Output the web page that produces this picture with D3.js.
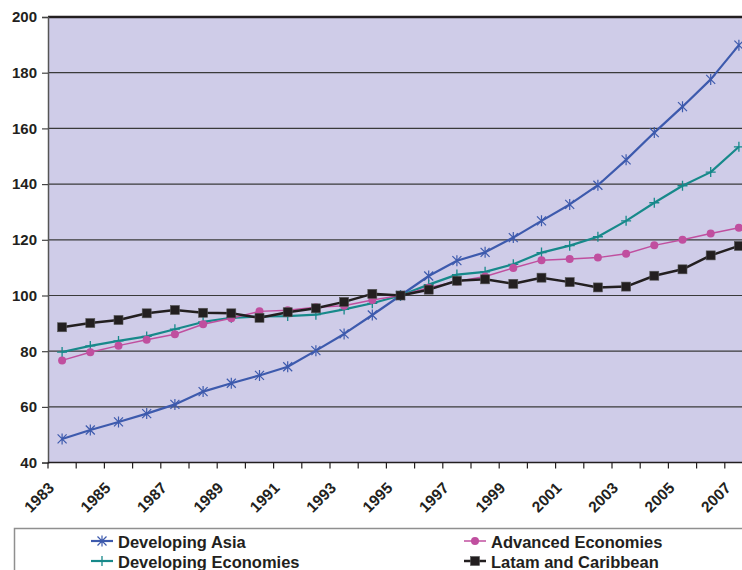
<!DOCTYPE html>
<html>
<head>
<meta charset="utf-8">
<script src="https://cdn.jsdelivr.net/npm/d3@7/dist/d3.min.js"></script>
<style>
  body { margin: 0; background: #fff; }
  svg { display: block; }
  text { font-family: "Liberation Sans", Arial, sans-serif; font-weight: bold; fill: #231f20; }
</style>
</head>
<body>
<svg id="chart" width="742" height="570"></svg>
<script>
// Index values, 1995 = 100
const years = [1983, 1984, 1985, 1986, 1987, 1988, 1989, 1990, 1991, 1992, 1993, 1994, 1995,
               1996, 1997, 1998, 1999, 2000, 2001, 2002, 2003, 2004, 2005, 2006, 2007];
const developingAsia = [48.5, 51.7, 54.6, 57.6, 60.9, 65.5, 68.5, 71.3, 74.4, 80.2, 86.2, 93.0, 100,
                        107.0, 112.5, 115.5, 120.8, 126.8, 132.7, 139.6, 148.7, 158.5, 167.8, 177.6, 189.9];
const advancedEconomies = [76.7, 79.6, 82.0, 84.1, 86.1, 89.7, 91.8, 94.3, 94.7, 95.8, 96.3, 98.4, 100,
                           102.8, 105.0, 106.8, 109.9, 112.7, 113.1, 113.6, 115.0, 118.0, 120.0, 122.3, 124.3];
const developingEconomies = [79.7, 81.9, 83.7, 85.3, 87.9, 90.5, 92.0, 92.5, 92.6, 93.1, 95.0, 97.2, 100,
                             103.9, 107.5, 108.5, 111.2, 115.4, 117.9, 121.1, 126.8, 133.3, 139.4, 144.3, 153.4];
const latamCaribbean = [88.6, 90.1, 91.2, 93.6, 94.8, 93.8, 93.6, 92.0, 94.0, 95.4, 97.7, 100.6, 100,
                        102.1, 105.3, 105.8, 104.2, 106.4, 104.8, 102.9, 103.2, 107.1, 109.4, 114.4, 117.8];
const yTicks = [40, 60, 80, 100, 120, 140, 160, 180, 200];
const xTickLabels = [1983, 1985, 1987, 1989, 1991, 1993, 1995, 1997, 1999, 2001, 2003, 2005, 2007];

const series = [
  { name: "Developing Asia", values: developingAsia, color: "#3d5aad", width: 2.2, marker: "asterisk" },
  { name: "Developing Economies", values: developingEconomies, color: "#17898a", width: 2.2, marker: "plus" },
  { name: "Advanced Economies", values: advancedEconomies, color: "#c04f9f", width: 1.5, marker: "circle" },
  { name: "Latam and Caribbean", values: latamCaribbean, color: "#231f20", width: 2.5, marker: "square" }
];

const svg = d3.select("#chart");
const plot = { left: 48, right: 753, top: 17, bottom: 462.6 };

const x = d3.scaleBand().domain(years).range([plot.left, plot.right]);
const y = d3.scaleLinear().domain([40, 200]).range([plot.bottom, plot.top]);
const cx = d => x(d) + x.bandwidth() / 2;

// plot background
svg.append("rect")
  .attr("x", plot.left).attr("y", plot.top)
  .attr("width", plot.right - plot.left).attr("height", plot.bottom - plot.top)
  .attr("fill", "#cfcce8");

// horizontal gridlines
svg.append("g").selectAll("line")
  .data(yTicks.filter(t => t > 40))
  .join("line")
  .attr("x1", plot.left).attr("x2", plot.right)
  .attr("y1", d => y(d)).attr("y2", d => y(d))
  .attr("stroke", d => d === 200 ? "#231f20" : "#3a3a3a")
  .attr("stroke-width", d => d === 200 ? 2.5 : 1.2);

// y axis
const yAxis = svg.append("g")
  .attr("transform", `translate(${plot.left},0)`)
  .call(d3.axisLeft(y).tickValues(yTicks).tickSize(6).tickPadding(5).tickFormat(d3.format("d")));
yAxis.select(".domain").attr("stroke", "#555").attr("stroke-width", 1.5);
yAxis.selectAll(".tick line").attr("stroke", "#444").attr("stroke-width", 1.2);
yAxis.selectAll(".tick text")
  .style("font-size", "15px").style("font-family", "'Liberation Sans', Arial, sans-serif")
  .style("font-weight", "bold").attr("fill", "#231f20");

// x axis line and category boundary ticks
const xAxisG = svg.append("g");
xAxisG.append("line")
  .attr("x1", plot.left).attr("x2", plot.right)
  .attr("y1", plot.bottom).attr("y2", plot.bottom)
  .attr("stroke", "#231f20").attr("stroke-width", 1.5);
xAxisG.selectAll("line.tk")
  .data(years.concat([null]))
  .join("line").attr("class", "tk")
  .attr("x1", (d, i) => plot.left + i * x.step())
  .attr("x2", (d, i) => plot.left + i * x.step())
  .attr("y1", plot.bottom).attr("y2", plot.bottom + 6)
  .attr("stroke", "#231f20").attr("stroke-width", 1.2);
xAxisG.selectAll("text")
  .data(xTickLabels)
  .join("text")
  .attr("transform", d => `translate(${cx(d) - 7},489) rotate(-45)`)
  .attr("text-anchor", "end")
  .style("font-size", "15.5px")
  .text(d => d);

// series lines and markers
const line = d3.line().x((d, i) => cx(years[i])).y(d => y(d));

function drawMarker(g, type, color) {
  if (type === "asterisk") {
    const s = 4.5;
    g.append("path")
      .attr("d", `M${-s},${-s}L${s},${s}M${-s},${s}L${s},${-s}M0,${-s - 1}L0,${s + 1}`)
      .attr("stroke", color).attr("stroke-width", 1.2).attr("fill", "none");
  } else if (type === "plus") {
    const s = 5;
    g.append("path")
      .attr("d", `M${-s},0L${s},0M0,${-s}L0,${s}`)
      .attr("stroke", color).attr("stroke-width", 1.3).attr("fill", "none");
  } else if (type === "circle") {
    g.append("circle").attr("r", 4).attr("fill", color);
  } else if (type === "square") {
    g.append("rect").attr("x", -4.5).attr("y", -4.5).attr("width", 9).attr("height", 9)
      .attr("fill", color).attr("stroke", "#555").attr("stroke-width", 0.6);
  }
}

series.forEach(s => {
  const g = svg.append("g");
  g.append("path")
    .datum(s.values)
    .attr("d", line)
    .attr("fill", "none")
    .attr("stroke", s.color)
    .attr("stroke-width", s.width)
    .attr("stroke-linejoin", "round");
  s.values.forEach((v, i) => {
    const m = g.append("g").attr("transform", `translate(${cx(years[i])},${y(v)})`);
    drawMarker(m, s.marker, s.color);
  });
});

// legend
const legend = svg.append("g");
legend.append("rect")
  .attr("x", 14.5).attr("y", 528.5).attr("width", 800).attr("height", 100)
  .attr("fill", "#fff").attr("stroke", "#8f8f8f").attr("stroke-width", 1.5);

const legendItems = [
  { s: series[0], x: 91, y: 541 },
  { s: series[2], x: 464, y: 541 },
  { s: series[1], x: 91, y: 561 },
  { s: series[3], x: 464, y: 561 }
];
legendItems.forEach(it => {
  const g = legend.append("g");
  g.append("line")
    .attr("x1", it.x).attr("x2", it.x + 22)
    .attr("y1", it.y).attr("y2", it.y)
    .attr("stroke", it.s.color).attr("stroke-width", it.s.width);
  const m = g.append("g").attr("transform", `translate(${it.x + 11},${it.y})`);
  drawMarker(m, it.s.marker, it.s.color);
  g.append("text")
    .attr("x", it.x + 27).attr("y", it.y + 6.5)
    .style("font-size", "16.5px")
    .text(it.s.name);
});
</script>
</body>
</html>
